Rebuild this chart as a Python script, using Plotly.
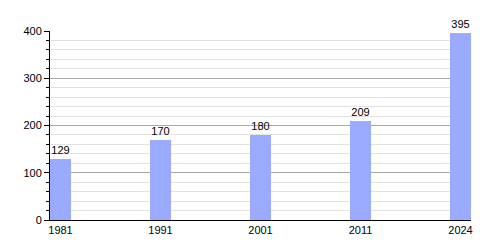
import plotly.graph_objects as go

years = ["1981", "1991", "2001", "2011", "2024"]
values = [129, 170, 180, 209, 395]
positions = list(range(len(years)))

fig = go.Figure()
fig.add_trace(go.Bar(
    x=positions, y=values, width=0.21,
    marker=dict(color="#99aaff", line=dict(width=0)),
    text=[str(v) for v in values], textposition="outside",
    textfont=dict(family="Liberation Sans, Arial, sans-serif", size=11, color="#000"),
    cliponaxis=False,
))
fig.update_layout(
    width=500, height=250,
    margin=dict(l=50, r=29, t=31, b=30),
    paper_bgcolor="white", plot_bgcolor="white",
    showlegend=False, bargap=0,
    font=dict(family="Liberation Sans, Arial, sans-serif", size=11, color="#000"),
    uniformtext=dict(minsize=11, mode="show"),
)
fig.update_xaxes(
    range=[-0.105, 4.105], tickvals=positions, ticktext=years,
    showgrid=False, showline=True, linecolor="#000", linewidth=1,
    ticks="", ticklen=0, zeroline=False, fixedrange=True,
)
fig.update_yaxes(
    range=[0, 400], tickvals=[0, 100, 200, 300, 400],
    showgrid=True, gridcolor="#aaaaaa", gridwidth=1,
    showline=True, linecolor="#000", linewidth=1,
    ticks="outside", ticklen=5, tickcolor="#000",
    minor=dict(dtick=20, showgrid=True, gridcolor="#e2e2e2", gridwidth=1,
               ticks="outside", ticklen=3, tickcolor="#000"),
    zeroline=False, fixedrange=True,
)
fig.write_html("out.html")
